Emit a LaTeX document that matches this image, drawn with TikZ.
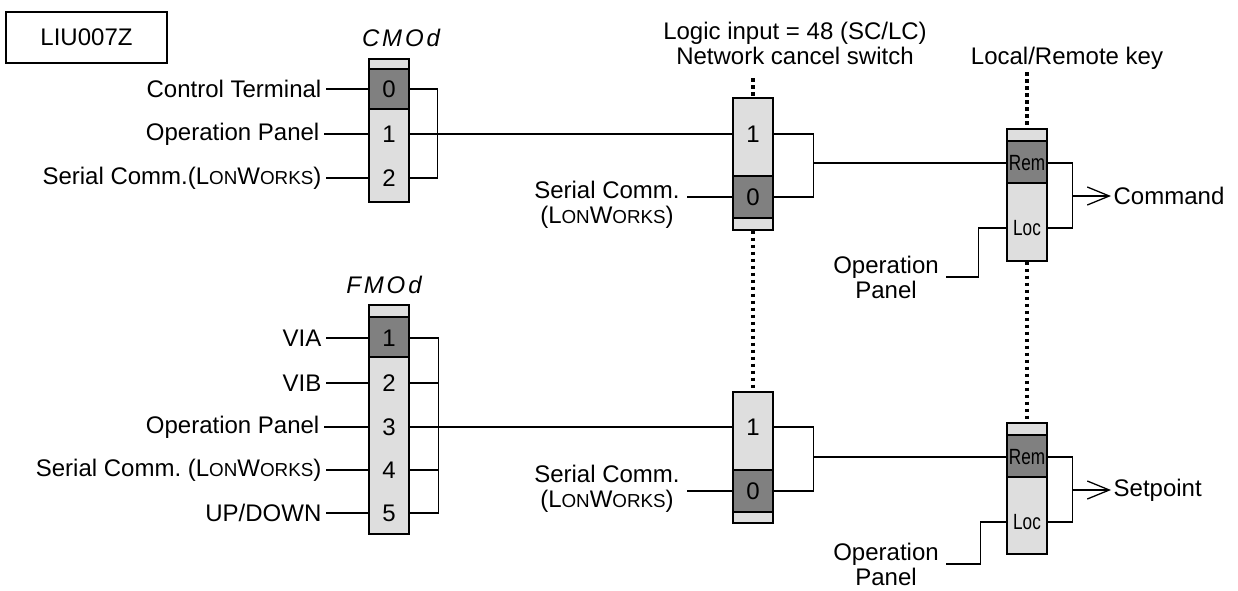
\documentclass[tikz,border=0pt]{standalone}
\usepackage{fontspec}
\setmainfont{Liberation Sans}
\usetikzlibrary{arrows.meta}
\frenchspacing

\definecolor{lightdot}{gray}{0.87}
\definecolor{darkdot}{gray}{0.50}
\newcommand{\lonw}{L{\fontsize{9.4}{10}\selectfont ON}W{\fontsize{9.4}{10}\selectfont ORKS}}
\newcommand{\segtext}[1]{{\fontsize{12}{13}\selectfont\itshape\addfontfeature{LetterSpace=12}#1}}

\tikzset{
	body/.style={draw, fill=lightdot, minimum width=20pt, inner sep=0pt},
	cell/.style={minimum width=20pt, minimum height=8pt, inner sep=0pt},
	keycell/.style={cell, font=\fontsize{11}{12}\selectfont\addfontfeature{FakeStretch=0.78}},
	lbl/.style={anchor=east, inner sep=2pt},
	dotline/.style={line width=1.6pt, dash pattern=on 1.75pt off 1.75pt},
	outarrow/.style={-{Straight Barb[length=11pt,width=9pt]}}
}

\begin{document}
\begin{tikzpicture}[x=0.5pt, y=-0.5pt, line width=0.65pt, font=\fontsize{12}{12.5}\selectfont]
	\useasboundingbox (0,0) rectangle (1238,590);

	\node[draw, minimum width=80.5pt, minimum height=25.5pt] (title) at (86.5,37.5) {LIU007Z};

	% command mode selector
	\node (cmodname) at (401,38) {\segtext{CMOd}};
	\node[body, minimum height=71.5pt] (cmod) at (389,130.5) {};
	\draw[fill=darkdot] (369,69) rectangle (409,109);
	\node[cell] (cm0) at (389,89) {0};
	\node[cell] (cm1) at (389,134) {1};
	\node[cell] (cm2) at (389,178) {2};
	\node[lbl] (ctl) at (326,89) {Control Terminal};
	\node[lbl] (opc) at (324,134) {Operation Panel};
	\node[lbl] (scc) at (326,178) {Serial Comm.(\lonw)};

	% frequency mode selector
	\node (fmodname) at (384,285) {\segtext{FMOd}};
	\node[body, minimum height=114.5pt] (fmod) at (389,419.5) {};
	\draw[fill=darkdot] (369,317) rectangle (409,357);
	\node[cell] (fm1) at (389,338) {1};
	\node[cell] (fm2) at (389,383) {2};
	\node[cell] (fm3) at (389,427) {3};
	\node[cell] (fm4) at (389,470) {4};
	\node[cell] (fm5) at (389,513) {5};
	\node[lbl] (via) at (326,338) {VIA};
	\node[lbl] (vib) at (326,383) {VIB};
	\node[lbl] (opf) at (324,427) {Operation Panel};
	\node[lbl] (scf) at (326,470) {Serial Comm. (\lonw)};
	\node[lbl] (updn) at (326,513) {UP/DOWN};

	% network cancel switches
	\node[align=center] (nslabel) at (795,43) {Logic input = 48 (SC/LC)\\Network cancel switch};
	\coordinate (nsAtop) at (753,78);
	\node[body, minimum height=66pt] (nsA) at (753,164) {};
	\draw[fill=darkdot] (733,176) rectangle (773,218);
	\node[cell] (nsA1) at (753,134) {1};
	\node[cell] (nsA0) at (753,197) {0};
	\node[align=center] (scA) at (607,205) {Serial Comm.\\(\lonw)};
	\coordinate (nsAout) at (813,163);

	\node[body, minimum height=65.5pt] (nsB) at (753,457.5) {};
	\draw[fill=darkdot] (733,470) rectangle (773,512);
	\node[cell] (nsB1) at (753,427) {1};
	\node[cell] (nsB0) at (753,491) {0};
	\node[align=center] (scB) at (607,489) {Serial Comm.\\(\lonw)};
	\coordinate (nsBout) at (813,457);

	% local/remote keys
	\node (lrlabel) at (1067,58) {Local/Remote key};
	\coordinate (lrAtop) at (1027,72);
	\node[body, minimum height=66pt] (lrA) at (1027,195) {};
	\draw[fill=darkdot] (1007,141) rectangle (1047,183);
	\node[keycell] (lrArem) at (1027,163) {Rem};
	\node[keycell] (lrAloc) at (1027,228) {Loc};
	\node[align=center] (opA) at (886,277) {Operation\\Panel};
	\coordinate (lrAout) at (1072,196);
	\node[anchor=west, inner sep=1pt] (cmd) at (1111,196) {Command};

	\node[body, minimum height=65.5pt] (lrB) at (1027,488.5) {};
	\draw[fill=darkdot] (1007,435) rectangle (1047,477);
	\node[keycell] (lrBrem) at (1027,457) {Rem};
	\node[keycell] (lrBloc) at (1027,522) {Loc};
	\node[align=center] (opB) at (886,564) {Operation\\Panel};
	\coordinate (lrBout) at (1072,490);
	\node[anchor=west, inner sep=1pt] (setp) at (1111,490) {Setpoint};

	% connectors
	\draw (ctl.east) -- (cm0.west);
	\draw (opc.east) -- (cm1.west);
	\draw (scc.east) -- (cm2.west);
	\draw (cm0.east) -- ++(28,0) |- (cm2.east);
	\draw (cm1.east) -- (nsA1.west);

	\draw (via.east) -- (fm1.west);
	\draw (vib.east) -- (fm2.west);
	\draw (opf.east) -- (fm3.west);
	\draw (scf.east) -- (fm4.west);
	\draw (updn.east) -- (fm5.west);
	\draw (fm1.east) -- ++(29,0) |- (fm5.east);
	\draw (fm2.east) -- ++(29,0);
	\draw (fm4.east) -- ++(29,0);
	\draw (fm3.east) -- (nsB1.west);

	\draw (scA.east |- nsA0) -- (nsA0.west);
	\draw (nsA1.east) -- ++(40,0) |- (nsA0.east);
	\draw (nsAout) -- (lrArem.west);
	\draw (scB.east |- nsB0) -- (nsB0.west);
	\draw (nsB1.east) -- ++(40,0) |- (nsB0.east);
	\draw (nsBout) -- (lrBrem.west);

	\draw (lrArem.east) -- ++(25,0) |- (lrAloc.east);
	\draw[outarrow] (lrAout) -- (cmd.west);
	\draw (opA.east) -| ([xshift=-14pt]lrAloc.west) -- (lrAloc.west);
	\draw (lrBrem.east) -- ++(25,0) |- (lrBloc.east);
	\draw[outarrow] (lrBout) -- (setp.west);
	\draw (opB.east) -| ([xshift=-13pt]lrBloc.west) -- (lrBloc.west);

	\draw[dotline] (nsAtop) -- (nsA.north);
	\draw[dotline] (nsA.south) -- (nsB.north);
	\draw[dotline] (lrAtop) -- (lrA.north);
	\draw[dotline] (lrA.south) -- (lrB.north);
\end{tikzpicture}
\end{document}
